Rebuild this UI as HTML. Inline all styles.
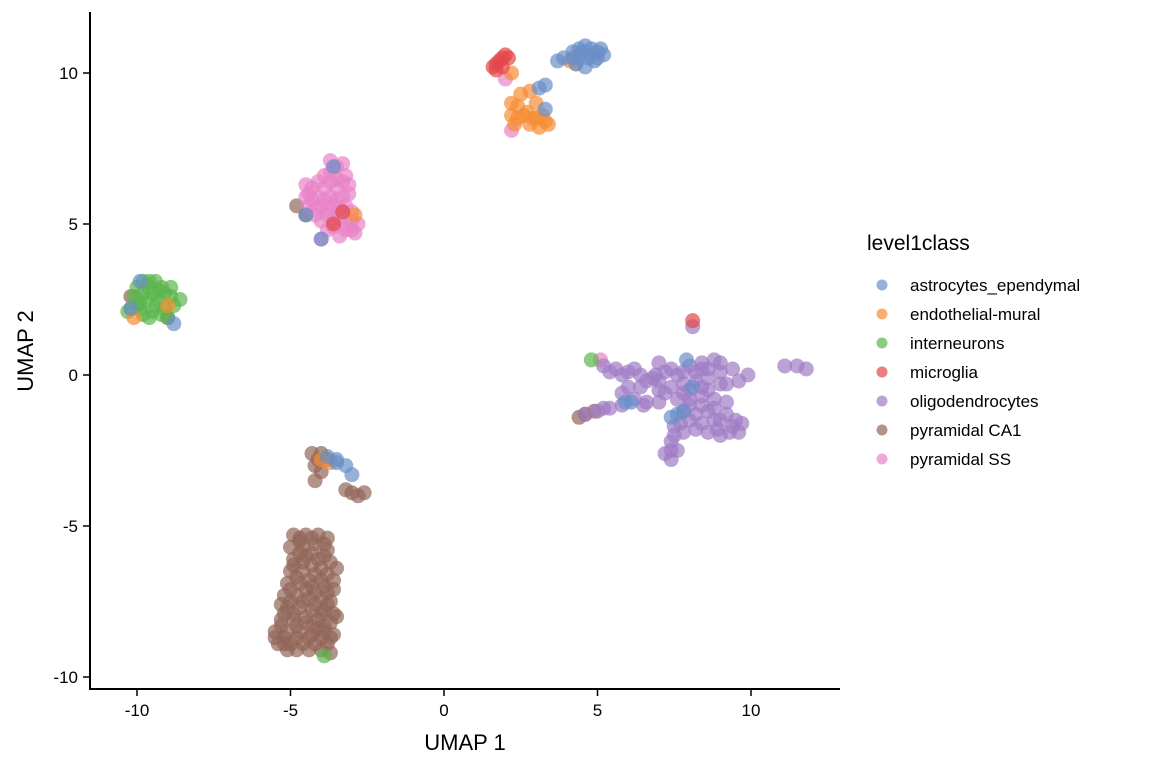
<!DOCTYPE html>
<html><head><meta charset="utf-8">
<style>
body{margin:0;background:#fff;}
svg{display:block;font-family:"Liberation Sans",Arial,sans-serif;}
</style></head>
<body>
<svg id="chart" width="1152" height="768"></svg>
<script>
const categories=["astrocytes_ependymal","endothelial-mural","interneurons","microglia","oligodendrocytes","pyramidal CA1","pyramidal SS"];
const colors=["#6a8fc8","#f68d34","#5bb54d","#e4474a","#a07cc5","#926659","#e883c7"];
const xTicks=[-10,-5,0,5,10];
const yTicks=[-10,-5,0,5,10];
const brown=[[-4.9,-5.3],[-4.5,-5.3],[-4.1,-5.3],[-3.8,-5.4],[-5.0,-5.7],[-4.6,-5.7],[-4.2,-5.6],[-3.8,-5.8],[-4.9,-6.1],[-4.5,-6.0],[-4.1,-6.1],[-3.7,-6.2],[-3.5,-6.4],[-5.0,-6.5],[-4.6,-6.5],[-4.2,-6.6],[-3.8,-6.6],[-5.1,-6.9],[-4.7,-6.9],[-4.3,-7.0],[-3.9,-7.0],[-3.6,-7.1],[-5.2,-7.3],[-4.8,-7.3],[-4.4,-7.4],[-4.0,-7.4],[-3.7,-7.5],[-5.1,-7.7],[-4.7,-7.7],[-4.3,-7.8],[-3.9,-7.8],[-3.6,-7.9],[-5.3,-8.1],[-4.9,-8.1],[-4.5,-8.2],[-4.1,-8.1],[-3.7,-8.2],[-5.5,-8.5],[-5.1,-8.5],[-4.7,-8.5],[-4.3,-8.6],[-3.9,-8.5],[-3.6,-8.6],[-5.4,-8.9],[-5.0,-8.9],[-4.6,-8.9],[-4.2,-8.9],[-3.8,-8.9],[-5.1,-9.1],[-4.4,-9.1],[-3.7,-9.2],[-5.5,-8.7],[-5.3,-7.6],[-4.9,-6.3],[-3.5,-8.0],[-4.7,-5.4],[-4.3,-5.9],[-4.5,-7.1],[-4.9,-7.9],[-4.1,-8.4],
[-4.7,-5.5],[-4.3,-5.4],[-3.9,-5.6],[-4.7,-5.9],[-3.9,-6.0],[-4.8,-6.7],[-4.4,-6.8],[-4.0,-6.8],[-3.6,-6.8],[-5.0,-7.1],[-4.2,-7.2],[-3.8,-7.2],[-5.0,-7.5],[-4.6,-7.5],[-4.2,-7.6],[-3.8,-7.6],[-5.2,-7.9],[-4.5,-8.0],[-4.0,-7.9],[-5.3,-8.3],[-4.8,-8.3],[-4.3,-8.3],[-3.9,-8.3],[-5.2,-8.7],[-4.8,-8.7],[-4.4,-8.7],[-4.0,-8.7],[-3.7,-8.7],[-5.2,-8.9],[-4.8,-9.1],[-4.0,-9.1],[-4.3,-6.3],[-4.0,-6.4],[-4.6,-6.2],
[-4.3,-2.6],[-4.0,-2.6],[-3.8,-2.8],[-4.2,-3.0],[-4.2,-3.5],[-4.0,-3.2],[-3.0,-3.9],[-2.8,-4.0],[-2.6,-3.9],[-3.2,-3.8],[-4.1,-2.8],
[-4.8,5.6],[-4.5,5.3],[-10.2,2.6],[-9.0,1.9],[4.4,-1.4],[4.9,-1.2],[4.6,-1.3]];
const blue=[[-3.8,-2.7],[-3.5,-2.8],[-3.2,-3.0],[-3.0,-3.3],[-3.5,-2.9],[-4.5,5.3],[-4.0,4.5],[-3.6,6.9],[-9.9,3.1],[-8.8,1.7],[-10.2,2.2],
[3.3,8.8],[3.1,9.5],[3.3,9.6],[4.2,10.5],[4.5,10.7],[4.8,10.8],[5.0,10.7],[4.7,10.5],[4.9,10.4],[4.6,10.2],[4.4,10.8],[3.9,10.5],[5.2,10.6],[4.2,10.7],[3.7,10.4],[4.6,10.9],[5.0,10.5],[4.4,10.5],[4.8,10.6],[5.1,10.8],[4.3,10.3],
[5.9,-0.9],[6.1,-0.9],[7.6,-1.3],[7.4,-1.4],[7.8,-1.2],[8.1,-0.4],[7.9,0.5]];
const orange=[[-4.0,-2.8],[-3.7,-2.9],[-2.9,5.3],[-10.1,1.9],[-9.0,2.3],[2.2,10.0],[2.2,9.0],[2.5,9.3],[2.8,9.4],[2.2,8.6],[2.6,8.6],[3.0,8.5],[3.3,8.4],[3.4,8.3],[2.8,8.3],[2.3,8.3],[4.1,10.4],[3.0,9.0],[4.3,10.3],[2.4,8.9],[3.1,8.2],[2.4,8.5],[2.7,8.7],[3.2,8.6],[2.9,8.5]];
const green=[[-10.2,2.2],[-9.9,2.2],[-9.5,2.1],[-9.1,2.2],[-8.8,2.3],[-10.1,2.6],[-9.7,2.5],[-9.3,2.5],[-8.9,2.6],[-8.6,2.5],[-10.0,2.9],[-9.6,2.9],[-9.2,2.9],[-8.9,2.9],[-9.8,3.1],[-9.4,3.1],[-10.3,2.1],[-9.6,1.9],[-9.0,1.9],[-9.4,2.3],[-9.8,2.7],[-9.5,2.7],[-9.1,2.7],[-9.9,2.4],[-9.2,2.0],[-9.8,2.0],[-10.0,2.3],[-9.6,3.1],[-9.3,2.8],
[-3.9,-9.3],[4.8,0.5]];
const red=[[1.6,10.2],[1.8,10.4],[2.0,10.6],[1.7,10.1],[2.1,10.5],[1.9,10.2],[1.7,10.3],[1.9,10.5],[-3.3,5.4],[-3.6,5.0],[8.1,1.8]];
const purple=[[4.6,-1.3],[5.0,-1.2],[5.4,-1.1],[5.8,-1.0],[6.2,-0.8],[5.2,0.3],[5.6,0.2],[6.0,0.1],[6.4,0.0],[6.8,-0.1],[7.2,0.1],[7.6,0.0],[7.0,-0.5],[7.4,-0.4],[7.8,-0.3],[8.2,-0.2],[8.6,-0.1],[9.0,0.1],[9.4,0.2],[8.0,0.3],[8.4,0.4],[8.8,0.5],[9.2,-0.3],[9.6,-0.2],[7.6,-0.8],[8.0,-0.8],[8.4,-0.7],[8.8,-0.8],[9.2,-0.9],[7.8,-1.2],[8.2,-1.3],[8.6,-1.2],[9.0,-1.5],[9.4,-1.7],[9.6,-1.9],[7.5,-1.7],[7.8,-1.9],[8.2,-1.8],[8.6,-1.9],[9.0,-2.0],[7.4,-2.2],[7.6,-2.5],[7.4,-2.8],[7.2,-2.6],[6.6,-0.9],[6.2,0.2],[9.9,0.0],[7.0,0.4],[11.1,0.3],[11.5,0.3],[11.8,0.2],[8.1,1.6],[8.4,-0.4],[8.0,-1.0],[8.8,-1.5],[9.3,-1.9],
[5.4,0.1],[5.8,0.0],[6.6,-0.2],[7.0,-0.2],[7.4,0.2],[7.8,0.1],[8.2,0.1],[8.6,0.2],[9.0,-0.3],[8.0,-0.5],[8.6,-0.5],[7.2,-0.6],[6.9,0.0],[8.4,-1.0],[8.8,-1.1],[9.2,-1.3],[8.0,-1.5],[8.4,-1.6],[7.7,-1.6],[9.5,-1.5],[7.5,-2.0],[8.9,-1.8],[7.4,-2.5],[6.4,-0.4],[6.0,-0.4],[5.8,-0.6],[9.7,-1.6],[7.8,-0.6],[8.4,0.2],[9.0,0.4],[7.0,-0.9],[6.5,-1.0],[5.2,-1.1]];
const pink=[[-3.7,7.1],[-3.5,6.9],[-3.9,6.6],[-3.5,6.5],[-3.2,6.6],[-4.3,6.2],[-3.9,6.2],[-3.5,6.2],[-3.1,6.3],[-4.5,5.9],[-4.1,5.9],[-3.7,5.9],[-3.3,5.9],[-4.4,5.6],[-4.0,5.6],[-3.6,5.6],[-3.2,5.6],[-4.2,5.3],[-3.8,5.3],[-3.4,5.2],[-3.0,5.1],[-2.8,5.0],[-3.6,4.9],[-3.2,4.8],[-2.9,4.7],[-3.4,4.6],[-4.0,4.5],[-4.5,6.3],[-3.3,7.0],
[-3.7,6.7],[-3.3,6.4],[-4.1,6.4],[-3.7,6.4],[-4.3,5.8],[-3.9,5.8],[-3.5,5.8],[-4.2,5.5],[-3.8,5.5],[-3.4,5.5],[-3.0,5.4],[-4.0,5.1],[-3.6,5.1],[-3.2,5.0],[-3.8,4.8],[-3.0,4.8],[-4.4,6.0],[-3.1,6.0],
[2.2,8.1],[2.0,9.8],[5.1,0.5]];
const series=[blue,orange,green,red,purple,brown,pink];
const drawOrder=[5,6,4,2,1,0,3];

const NS="http://www.w3.org/2000/svg";
const svg=document.getElementById('chart');
const sx=v=>444+v*30.7;
const sy=v=>375-v*30.2;
function mk(tag,attrs,parent){const e=document.createElementNS(NS,tag);for(const k in attrs)e.setAttribute(k,attrs[k]);(parent||svg).appendChild(e);return e;}

const pts=mk('g',{});


drawOrder.forEach(ci=>{
  series[ci].forEach(p=>{
    const c=mk('circle',{cx:sx(p[0]),cy:sy(p[1]),r:7.5,fill:colors[ci],'fill-opacity':0.7},pts);
    
    
  });
});

const xa=mk('line',{x1:90,y1:689,x2:840,y2:689,stroke:'#000','stroke-width':2});


const ya=mk('line',{x1:90,y1:12,x2:90,y2:690,stroke:'#000','stroke-width':2});


xTicks.forEach(t=>{
  const l=mk('line',{x1:sx(t),y1:689,x2:sx(t),y2:696,stroke:'#000','stroke-width':1.5});
  
  
  const tx=mk('text',{x:sx(t),y:716,'text-anchor':'middle','font-size':17,fill:'#000'});
  tx.textContent=t;
  
  
});
yTicks.forEach(t=>{
  const l=mk('line',{x1:83,y1:sy(t),x2:90,y2:sy(t),stroke:'#000','stroke-width':1.5});
  
  
  const tx=mk('text',{x:78,y:sy(t)+6,'text-anchor':'end','font-size':17,fill:'#000'});
  tx.textContent=t;
  
  
});
const xt=mk('text',{x:465,y:750,'text-anchor':'middle','font-size':22,fill:'#000'});
xt.textContent='UMAP 1';


const yt=mk('text',{x:0,y:0,'text-anchor':'middle','font-size':22,fill:'#000',transform:'translate(33,351) rotate(-90)'});
yt.textContent='UMAP 2';



const lg=mk('g',{});


const lt=mk('text',{x:867,y:250,'font-size':21,fill:'#000'},lg);
lt.textContent='level1class';


categories.forEach((c,i)=>{
  const y=285+i*29;
  const g=mk('g',{},lg);
  
  
  mk('circle',{cx:882,cy:y,r:5.5,fill:colors[i],'fill-opacity':0.7},g);
  const t=mk('text',{x:910,y:y+6,'font-size':17,fill:'#000'},g);
  t.textContent=c;
});
</script>
</body></html>
